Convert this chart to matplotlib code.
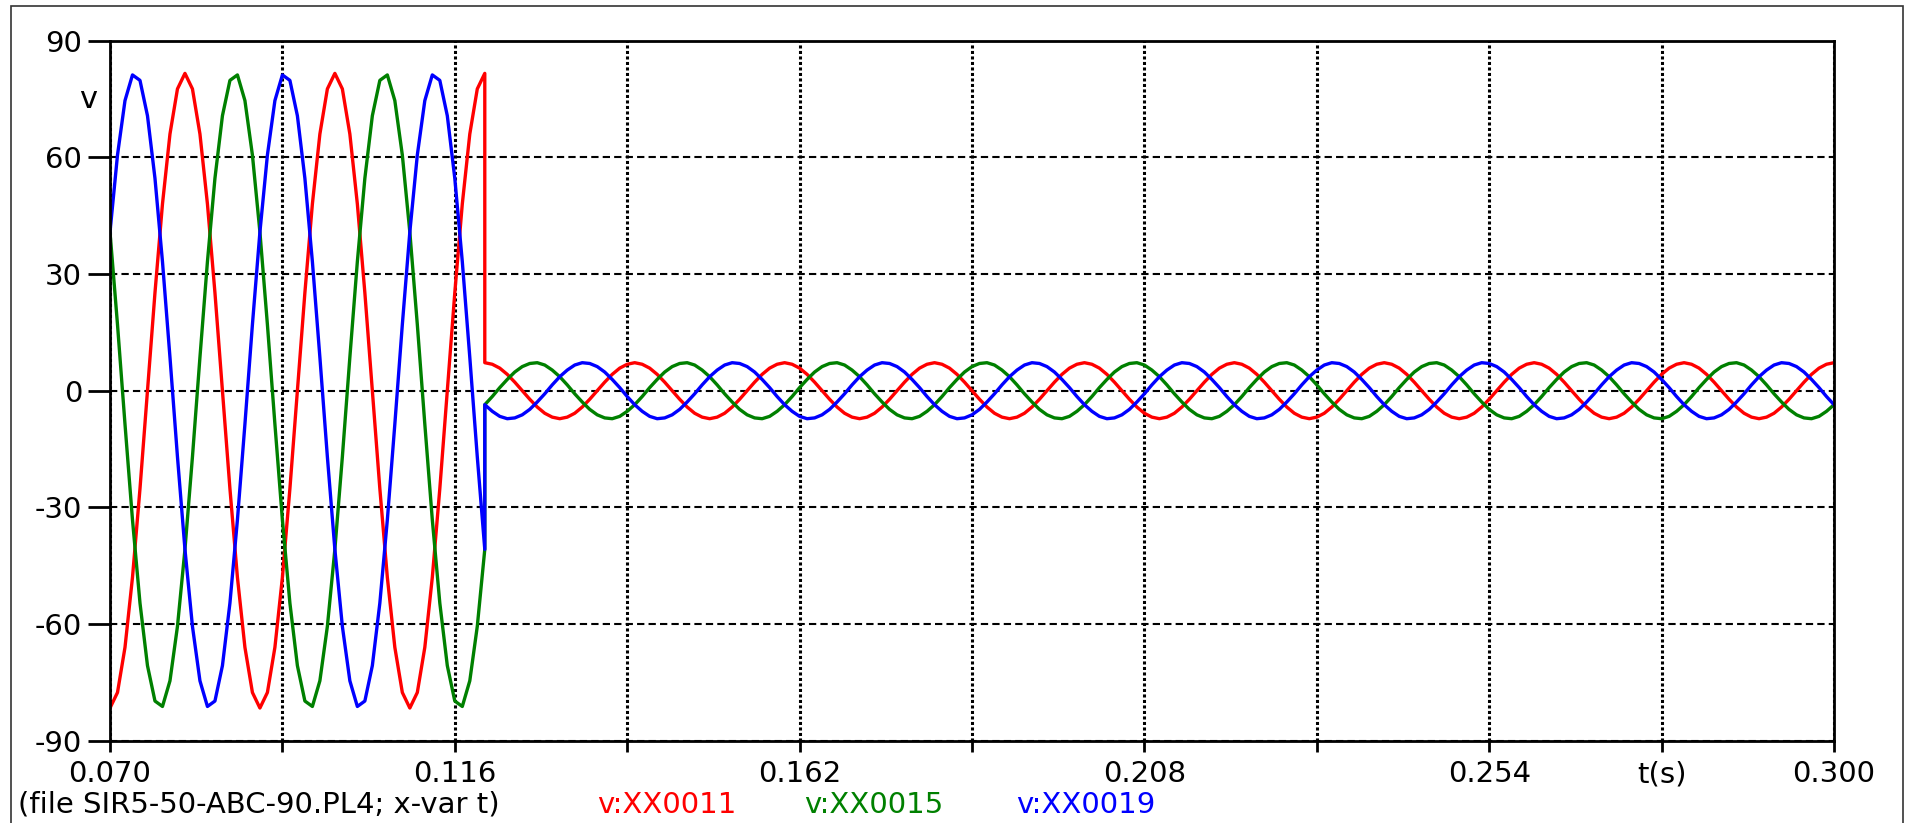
import numpy as np
import matplotlib.pyplot as plt
from matplotlib.patches import Rectangle

# time grid (s): before and after the fault at t = 0.120 s
t_pre = np.linspace(0.070, 0.120, 51)
t_post = np.linspace(0.120, 0.300, 181)

# v:XX0011 (red)
red_pre = [
    -81.6, -77.6, -66.0, -48.0, -25.2, 0.0, 25.2, 48.0, 66.0, 77.6,
    81.6, 77.6, 66.0, 48.0, 25.2, 0.0, -25.2, -48.0, -66.0, -77.6,
    -81.6, -77.6, -66.0, -48.0, -25.2, 0.0, 25.2, 48.0, 66.0, 77.6,
    81.6, 77.6, 66.0, 48.0, 25.2, 0.0, -25.2, -48.0, -66.0, -77.6,
    -81.6, -77.6, -66.0, -48.0, -25.2, 0.0, 25.2, 48.0, 66.0, 77.6,
    81.6]
red_post = [
    7.2, 6.8, 5.8, 4.2, 2.2, 0.0, -2.2, -4.2, -5.8, -6.8,
    -7.2, -6.8, -5.8, -4.2, -2.2, 0.0, 2.2, 4.2, 5.8, 6.8,
    7.2, 6.8, 5.8, 4.2, 2.2, 0.0, -2.2, -4.2, -5.8, -6.8,
    -7.2, -6.8, -5.8, -4.2, -2.2, 0.0, 2.2, 4.2, 5.8, 6.8,
    7.2, 6.8, 5.8, 4.2, 2.2, 0.0, -2.2, -4.2, -5.8, -6.8,
    -7.2, -6.8, -5.8, -4.2, -2.2, 0.0, 2.2, 4.2, 5.8, 6.8,
    7.2, 6.8, 5.8, 4.2, 2.2, 0.0, -2.2, -4.2, -5.8, -6.8,
    -7.2, -6.8, -5.8, -4.2, -2.2, 0.0, 2.2, 4.2, 5.8, 6.8,
    7.2, 6.8, 5.8, 4.2, 2.2, 0.0, -2.2, -4.2, -5.8, -6.8,
    -7.2, -6.8, -5.8, -4.2, -2.2, 0.0, 2.2, 4.2, 5.8, 6.8,
    7.2, 6.8, 5.8, 4.2, 2.2, 0.0, -2.2, -4.2, -5.8, -6.8,
    -7.2, -6.8, -5.8, -4.2, -2.2, 0.0, 2.2, 4.2, 5.8, 6.8,
    7.2, 6.8, 5.8, 4.2, 2.2, 0.0, -2.2, -4.2, -5.8, -6.8,
    -7.2, -6.8, -5.8, -4.2, -2.2, 0.0, 2.2, 4.2, 5.8, 6.8,
    7.2, 6.8, 5.8, 4.2, 2.2, 0.0, -2.2, -4.2, -5.8, -6.8,
    -7.2, -6.8, -5.8, -4.2, -2.2, 0.0, 2.2, 4.2, 5.8, 6.8,
    7.2, 6.8, 5.8, 4.2, 2.2, 0.0, -2.2, -4.2, -5.8, -6.8,
    -7.2, -6.8, -5.8, -4.2, -2.2, 0.0, 2.2, 4.2, 5.8, 6.8,
    7.2]

# v:XX0015 (green)
green_pre = [
    40.8, 17.0, -8.6, -33.2, -54.6, -70.7, -79.8, -81.2, -74.6, -60.6,
    -40.8, -17.0, 8.6, 33.2, 54.6, 70.7, 79.8, 81.2, 74.6, 60.6,
    40.8, 17.0, -8.6, -33.2, -54.6, -70.7, -79.8, -81.2, -74.6, -60.6,
    -40.8, -17.0, 8.6, 33.2, 54.6, 70.7, 79.8, 81.2, 74.6, 60.6,
    40.8, 17.0, -8.6, -33.2, -54.6, -70.7, -79.8, -81.2, -74.6, -60.6,
    -40.8]
green_post = [
    -3.6, -1.5, 0.8, 2.9, 4.8, 6.2, 7.0, 7.2, 6.6, 5.3,
    3.6, 1.5, -0.8, -2.9, -4.8, -6.2, -7.0, -7.2, -6.6, -5.3,
    -3.6, -1.5, 0.8, 2.9, 4.8, 6.2, 7.0, 7.2, 6.6, 5.3,
    3.6, 1.5, -0.8, -2.9, -4.8, -6.2, -7.0, -7.2, -6.6, -5.3,
    -3.6, -1.5, 0.8, 2.9, 4.8, 6.2, 7.0, 7.2, 6.6, 5.3,
    3.6, 1.5, -0.8, -2.9, -4.8, -6.2, -7.0, -7.2, -6.6, -5.3,
    -3.6, -1.5, 0.8, 2.9, 4.8, 6.2, 7.0, 7.2, 6.6, 5.3,
    3.6, 1.5, -0.8, -2.9, -4.8, -6.2, -7.0, -7.2, -6.6, -5.3,
    -3.6, -1.5, 0.8, 2.9, 4.8, 6.2, 7.0, 7.2, 6.6, 5.3,
    3.6, 1.5, -0.8, -2.9, -4.8, -6.2, -7.0, -7.2, -6.6, -5.3,
    -3.6, -1.5, 0.8, 2.9, 4.8, 6.2, 7.0, 7.2, 6.6, 5.3,
    3.6, 1.5, -0.8, -2.9, -4.8, -6.2, -7.0, -7.2, -6.6, -5.3,
    -3.6, -1.5, 0.8, 2.9, 4.8, 6.2, 7.0, 7.2, 6.6, 5.3,
    3.6, 1.5, -0.8, -2.9, -4.8, -6.2, -7.0, -7.2, -6.6, -5.3,
    -3.6, -1.5, 0.8, 2.9, 4.8, 6.2, 7.0, 7.2, 6.6, 5.3,
    3.6, 1.5, -0.8, -2.9, -4.8, -6.2, -7.0, -7.2, -6.6, -5.3,
    -3.6, -1.5, 0.8, 2.9, 4.8, 6.2, 7.0, 7.2, 6.6, 5.3,
    3.6, 1.5, -0.8, -2.9, -4.8, -6.2, -7.0, -7.2, -6.6, -5.3,
    -3.6]

# v:XX0019 (blue)
blue_pre = [
    40.8, 60.6, 74.6, 81.2, 79.8, 70.7, 54.6, 33.2, 8.6, -17.0,
    -40.8, -60.6, -74.6, -81.2, -79.8, -70.7, -54.6, -33.2, -8.6, 17.0,
    40.8, 60.6, 74.6, 81.2, 79.8, 70.7, 54.6, 33.2, 8.6, -17.0,
    -40.8, -60.6, -74.6, -81.2, -79.8, -70.7, -54.6, -33.2, -8.6, 17.0,
    40.8, 60.6, 74.6, 81.2, 79.8, 70.7, 54.6, 33.2, 8.6, -17.0,
    -40.8]
blue_post = [
    -3.6, -5.3, -6.6, -7.2, -7.0, -6.2, -4.8, -2.9, -0.8, 1.5,
    3.6, 5.3, 6.6, 7.2, 7.0, 6.2, 4.8, 2.9, 0.8, -1.5,
    -3.6, -5.3, -6.6, -7.2, -7.0, -6.2, -4.8, -2.9, -0.8, 1.5,
    3.6, 5.3, 6.6, 7.2, 7.0, 6.2, 4.8, 2.9, 0.8, -1.5,
    -3.6, -5.3, -6.6, -7.2, -7.0, -6.2, -4.8, -2.9, -0.8, 1.5,
    3.6, 5.3, 6.6, 7.2, 7.0, 6.2, 4.8, 2.9, 0.8, -1.5,
    -3.6, -5.3, -6.6, -7.2, -7.0, -6.2, -4.8, -2.9, -0.8, 1.5,
    3.6, 5.3, 6.6, 7.2, 7.0, 6.2, 4.8, 2.9, 0.8, -1.5,
    -3.6, -5.3, -6.6, -7.2, -7.0, -6.2, -4.8, -2.9, -0.8, 1.5,
    3.6, 5.3, 6.6, 7.2, 7.0, 6.2, 4.8, 2.9, 0.8, -1.5,
    -3.6, -5.3, -6.6, -7.2, -7.0, -6.2, -4.8, -2.9, -0.8, 1.5,
    3.6, 5.3, 6.6, 7.2, 7.0, 6.2, 4.8, 2.9, 0.8, -1.5,
    -3.6, -5.3, -6.6, -7.2, -7.0, -6.2, -4.8, -2.9, -0.8, 1.5,
    3.6, 5.3, 6.6, 7.2, 7.0, 6.2, 4.8, 2.9, 0.8, -1.5,
    -3.6, -5.3, -6.6, -7.2, -7.0, -6.2, -4.8, -2.9, -0.8, 1.5,
    3.6, 5.3, 6.6, 7.2, 7.0, 6.2, 4.8, 2.9, 0.8, -1.5,
    -3.6, -5.3, -6.6, -7.2, -7.0, -6.2, -4.8, -2.9, -0.8, 1.5,
    3.6, 5.3, 6.6, 7.2, 7.0, 6.2, 4.8, 2.9, 0.8, -1.5,
    -3.6]

series_names = ['v:XX0011', 'v:XX0015', 'v:XX0019']
series_colors = ['#ff0000', '#008000', '#0000ff']

x_ticks = [0.070, 0.093, 0.116, 0.139, 0.162, 0.185, 0.208, 0.231, 0.254, 0.277, 0.300]
x_ticklabels = ['0.070', '', '0.116', '', '0.162', '', '0.208', '', '0.254', 't(s)', '0.300']
y_ticks = [-90, -60, -30, 0, 30, 60, 90]

file_note = '(file SIR5-50-ABC-90.PL4; x-var t)'

plt.rcParams['font.family'] = 'DejaVu Sans'
plt.rcParams['axes.unicode_minus'] = False

fig = plt.figure(figsize=(19.06, 8.23), dpi=100)
ax = fig.add_axes([110 / 1906, 1 - 740.7 / 823, 1724 / 1906, 700 / 823])

t_all = np.concatenate([t_pre, t_post])
for pre, post, c in zip([red_pre, green_pre, blue_pre],
                        [red_post, green_post, blue_post], series_colors):
    ax.plot(t_all, np.concatenate([pre, post]), color=c, lw=2.4, zorder=3)

ax.set_xlim(0.070, 0.300)
ax.set_ylim(-90, 90)
ax.set_xticks(x_ticks)
ax.set_xticklabels(x_ticklabels)
ax.set_yticks(y_ticks)
ax.tick_params(axis='x', direction='out', length=8, width=2, labelsize=21, pad=6)
ax.tick_params(axis='y', direction='out', length=16, width=2, labelsize=21, pad=4)

ax.xaxis.grid(True, color='black', lw=2.2, linestyle=(0, (1.0, 0.8)))
ax.yaxis.grid(True, color='black', lw=1.5, linestyle=(0, (3.5, 2.0)))
ax.set_axisbelow(True)
for s in ax.spines.values():
    s.set_linewidth(2.0)
    s.set_zorder(4)

fig.text(88 / 1906, 1 - 100 / 823, 'v', fontsize=22, ha='center', va='center')

# bottom caption with the coloured series names
fig.text(18 / 1906, 1 - 805 / 823, file_note, fontsize=21, ha='left', va='center')
for name, c, xp in zip(series_names, series_colors, [597, 804, 1016]):
    fig.text(xp / 1906, 1 - 805 / 823, name, fontsize=21, color=c, ha='left', va='center')

# outer frame around the whole picture
fig.patches.append(Rectangle((11 / 1906, -0.02), 1892 / 1906, 1 - 6 / 823 + 0.02,
                             transform=fig.transFigure, fill=False,
                             edgecolor='#333333', lw=1.2))

plt.savefig('out.png', dpi=100)
